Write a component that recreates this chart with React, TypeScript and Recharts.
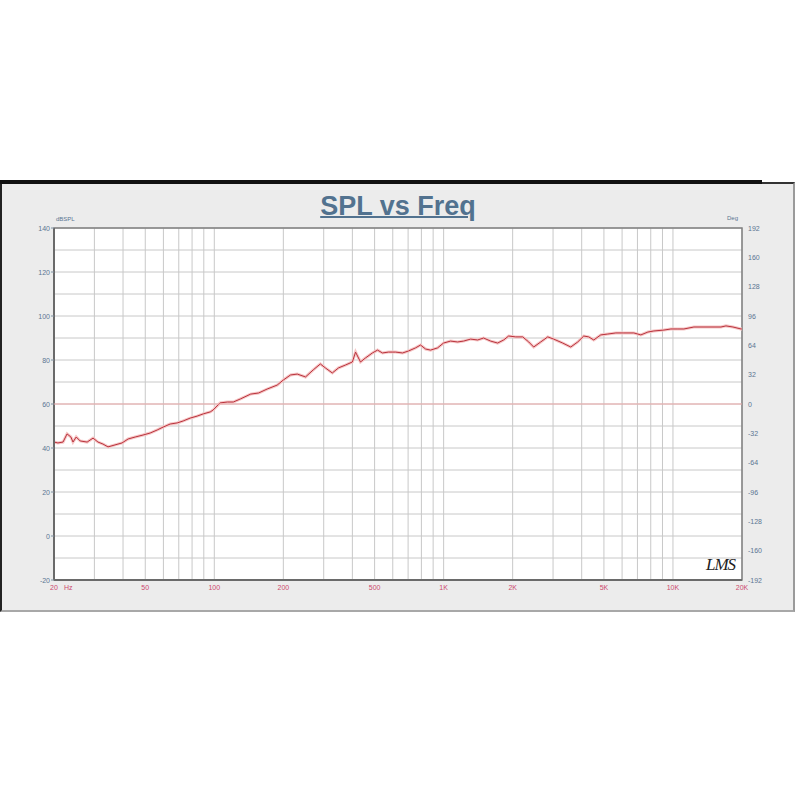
import React from "react";
import {
  LineChart,
  Line,
  XAxis,
  YAxis,
  CartesianGrid,
  ReferenceLine,
  ReferenceArea,
} from "recharts";

// frequency response (Hz, dBSPL)
const freqHz = [
  20, 20.8, 21.9, 22.8, 23.7, 24.2, 25, 26, 27.9, 29.6,
  31.1, 32.7, 34.4, 36.9, 39.6, 42.1, 45.2, 48.9, 52.5, 56.4,
  59.8, 64.2, 68.9, 73.2, 78.5, 84.2, 89.5, 96, 98.9, 106,
  114, 121, 130, 144, 156, 170, 188, 200, 215, 230,
  250, 270, 290, 305, 327, 348, 373, 400, 413, 434,
  456, 489, 515, 541, 575, 617, 662, 703, 754, 793,
  834, 877, 941, 999, 1072, 1150, 1222, 1311, 1407, 1494,
  1603, 1720, 1827, 1921, 2061, 2212, 2350, 2470, 2651, 2844,
  3020, 3306, 3583, 3844, 4083, 4293, 4515, 4843, 5198, 5634,
  6104, 6752, 7244, 7772, 8255, 9127, 9795, 10508, 11160, 12340,
  13650, 15094, 16194, 17028, 18266, 19798, 20000,
];

const splDb = [
  42.7, 42.3, 42.7, 46.4, 45.0, 42.7, 45.0, 43.2, 42.7, 44.5,
  42.7, 41.8, 40.5, 41.4, 42.3, 44.1, 45.0, 45.9, 46.8, 48.2,
  49.5, 50.9, 51.4, 52.3, 53.6, 54.5, 55.5, 56.4, 57.3, 60.5,
  60.9, 60.9, 62.3, 64.5, 65.0, 66.8, 68.6, 70.9, 73.2, 73.6,
  72.3, 75.5, 78.2, 76.4, 74.1, 76.4, 77.7, 79.1, 83.6, 79.1,
  80.9, 83.2, 84.5, 83.2, 83.6, 83.6, 83.2, 84.1, 85.5, 86.8,
  85.0, 84.5, 85.5, 87.7, 88.6, 88.2, 88.6, 89.5, 89.1, 90.0,
  88.6, 87.7, 89.1, 90.9, 90.5, 90.5, 88.2, 85.9, 88.2, 90.5,
  89.5, 87.7, 85.9, 88.2, 90.9, 90.5, 89.1, 91.4, 91.8, 92.3,
  92.3, 92.3, 91.4, 92.7, 93.2, 93.6, 94.1, 94.1, 94.1, 95.0,
  95.0, 95.0, 95.0, 95.5, 95.0, 94.1, 94.1,
];

const freqGrid = [
  20, 30, 40, 50, 60, 70, 80, 90, 100,
  200, 300, 400, 500, 600, 700, 800, 900, 1000,
  2000, 3000, 4000, 5000, 6000, 7000, 8000, 9000, 10000, 20000,
];
const freqLabels: Record<number, string> = {
  20: "20",
  50: "50",
  100: "100",
  200: "200",
  500: "500",
  1000: "1K",
  2000: "2K",
  5000: "5K",
  10000: "10K",
  20000: "20K",
};

const splTicks = [-20, -10, 0, 10, 20, 30, 40, 50, 60, 70, 80, 90, 100, 110, 120, 130, 140];
const degTicks = [-192, -160, -128, -96, -64, -32, 0, 32, 64, 96, 128, 160, 192];

const data = freqHz.map((f, i) => ({ f, spl: splDb[i] }));

const FONT = '"Liberation Sans", Arial, sans-serif';
const Y_COLOR = "#5b7592";
const X_COLOR = "#cc4a6e";

const SplTick = (props: any) => {
  const { x, y, payload } = props;
  if (payload.value % 20 !== 0) return <g />;
  return (
    <g>
      <line x1={x - 3} x2={x} y1={y} y2={y} stroke="#8090a0" />
      <text x={x - 4} y={y} dy={2.5} textAnchor="end" fontSize={7} fill={Y_COLOR} fontFamily={FONT}>
        {payload.value}
      </text>
    </g>
  );
};

const DegTick = (props: any) => {
  const { x, y, payload } = props;
  return (
    <text x={x + 6} y={y} dy={2.5} textAnchor="start" fontSize={7} fill={Y_COLOR} fontFamily={FONT}>
      {payload.value}
    </text>
  );
};

const FreqTick = (props: any) => {
  const { x, y, payload } = props;
  const label = freqLabels[payload.value];
  if (!label) return <g />;
  return (
    <g>
      <text x={x} y={y + 10} textAnchor="middle" fontSize={7} fill={X_COLOR} fontFamily={FONT}>
        {label}
      </text>
      {payload.value === 20 && (
        <text x={x + 10} y={y + 10} textAnchor="start" fontSize={7} fill={X_COLOR} fontFamily={FONT}>
          Hz
        </text>
      )}
    </g>
  );
};

export default function App() {
  return (
    <div style={{ position: "absolute", left: 0, top: 0, width: 800, height: 800, background: "#fff", fontFamily: FONT }}>
      {/* panel */}
      <div
        style={{
          position: "absolute",
          left: 0,
          top: 182,
          width: 795,
          height: 430,
          boxSizing: "border-box",
          background: "#ececec",
          borderTop: "2px solid #333",
          borderLeft: "2px solid #222",
          borderRight: "2px solid #9a9a9a",
          borderBottom: "2px solid #a8a8a8",
        }}
      />
      <div style={{ position: "absolute", left: 0, top: 180, width: 762, height: 4, background: "#111" }} />
      <div
        style={{
          position: "absolute",
          left: 0,
          top: 193,
          width: 796,
          textAlign: "center",
          fontSize: 27,
          lineHeight: "27px",
          fontWeight: "bold",
          color: "#52728f",
          textDecoration: "underline",
          textDecorationThickness: 2,
        }}
      >
        SPL vs Freq
      </div>
      <div style={{ position: "absolute", left: 56, top: 216, fontSize: 6, color: Y_COLOR }}>dBSPL</div>
      <div style={{ position: "absolute", left: 727, top: 215, fontSize: 6, color: Y_COLOR }}>Deg</div>

      <div style={{ position: "absolute", left: 0, top: 0 }}>
        <LineChart width={800} height={800} data={data} margin={{ top: 228, right: 18, bottom: 200, left: 24 }}>
          <CartesianGrid yAxisId="db" stroke="#c8c8c8" strokeWidth={1} fill="#fff" />
          <XAxis
            dataKey="f"
            type="number"
            scale="log"
            domain={[20, 20000]}
            ticks={freqGrid}
            interval={0}
            allowDataOverflow
            height={20}
            tickSize={0}
            tickMargin={0}
            tick={<FreqTick />}
            axisLine={{ stroke: "#6a6a6a", strokeWidth: 2 }}
          />
          <YAxis
            yAxisId="db"
            type="number"
            domain={[-20, 140]}
            ticks={splTicks}
            interval={0}
            width={30}
            tickSize={0}
            tickMargin={0}
            tick={<SplTick />}
            axisLine={{ stroke: "#6a6a6a", strokeWidth: 2 }}
          />
          <YAxis
            yAxisId="deg"
            orientation="right"
            type="number"
            domain={[-192, 192]}
            ticks={degTicks}
            interval={0}
            width={40}
            tickSize={0}
            tickMargin={0}
            tick={<DegTick />}
            axisLine={false}
          />
          <ReferenceArea
            yAxisId="db"
            x1={20}
            x2={20000}
            y1={-20}
            y2={140}
            fill="none"
            stroke="#808080"
            strokeWidth={1.5}
          />
          <Line
            yAxisId="db"
            type="linear"
            dataKey="spl"
            stroke="#f6c6c6"
            strokeWidth={3}
            dot={false}
            isAnimationActive={false}
          />
          <Line
            yAxisId="db"
            type="linear"
            dataKey="spl"
            stroke="#b8323c"
            strokeWidth={1}
            dot={false}
            isAnimationActive={false}
          />
          {/* phase zero line */}
          <ReferenceLine
            yAxisId="deg"
            y={0}
            stroke="#eeaaaa"
            strokeWidth={1.2}
            ifOverflow="extendDomain"
            {...({ zIndex: 1000 } as any)}
          />
        </LineChart>
      </div>
      <div
        style={{
          position: "absolute",
          left: 706,
          top: 555,
          fontSize: 17,
          fontStyle: "italic",
          fontFamily: '"Liberation Serif", serif',
          color: "#222",
          letterSpacing: -1,
        }}
      >
        LMS
      </div>
    </div>
  );
}
